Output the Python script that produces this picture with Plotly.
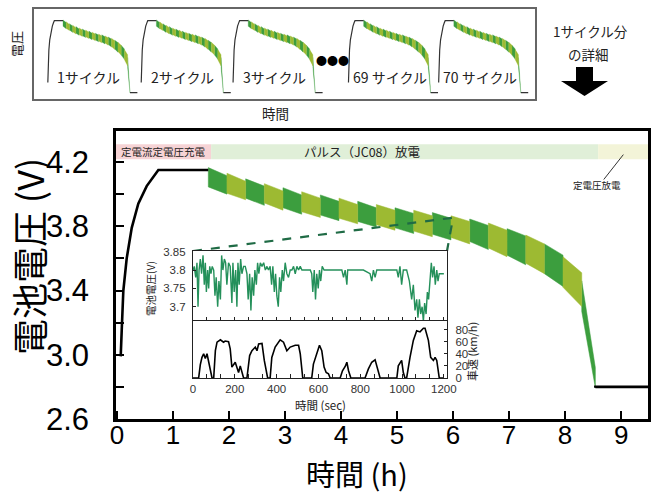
import plotly.graph_objects as go

W, H = 651, 495

# ---------------- data ----------------
# CC-CV charge (hours, volts)
charge_t = [0.066, 0.07, 0.084, 0.113, 0.173, 0.263, 0.380, 0.530, 0.648, 0.738, 1.63]
charge_v = [2.99, 3.05, 3.15, 3.40, 3.60, 3.79, 3.94, 4.05, 4.11, 4.15, 4.15]

# pulse (JC08) discharge: one block per 1200 s cycle
seg_start = [1.63, 1.963, 2.297, 2.63, 2.963, 3.297, 3.63, 3.963, 4.297, 4.63, 4.963,
             5.297, 5.63, 5.963, 6.297, 6.63, 6.963, 7.297, 7.63, 7.963, 8.297]
discharge_end_t = 8.54
seg_top_start = [4.165, 4.130, 4.095, 4.065, 4.040, 4.015, 3.995, 3.975, 3.955, 3.935, 3.915,
                 3.900, 3.885, 3.865, 3.845, 3.820, 3.785, 3.745, 3.690, 3.610, 3.460]
seg_top_end = [4.115, 4.080, 4.050, 4.020, 3.995, 3.975, 3.955, 3.935, 3.915, 3.900, 3.880,
               3.865, 3.850, 3.830, 3.805, 3.775, 3.740, 3.690, 3.620, 3.510, 2.920]
seg_bot_start = [4.045, 4.005, 3.975, 3.945, 3.915, 3.890, 3.870, 3.850, 3.830, 3.810, 3.790,
                 3.770, 3.750, 3.730, 3.705, 3.665, 3.620, 3.570, 3.505, 3.420, 3.270]
seg_bot_end = [4.000, 3.965, 3.930, 3.900, 3.875, 3.855, 3.835, 3.815, 3.795, 3.775, 3.755,
               3.735, 3.715, 3.690, 3.655, 3.610, 3.560, 3.505, 3.425, 3.300, 2.795]

# constant-voltage discharge / rest after cutoff
rest_t = [8.54, 9.48]
rest_v = [2.80, 2.80]

# phase bands at the top
phase_names = ["定電流定電圧充電", "パルス（JC08）放電", "定電圧放電"]
phase_start = [-0.018, 1.68, 8.59]
phase_end = [1.68, 8.59, 9.48]

# zoomed cycle (main-chart location of the inset)
zoom_t = 6.0
zoom_v = 3.853

# inset: battery voltage over one JC08 cycle (s, V)
inset_t = [0, 6, 13, 19, 24, 29, 35, 41, 48, 54, 59, 64, 70, 75, 80, 86, 92, 99, 105, 111,
           118, 124, 131, 137, 143, 150, 156, 162, 170, 178, 186, 191, 197, 204, 210, 215,
           221, 228, 234, 242, 250, 258, 264, 271, 277, 283, 290, 296, 303, 309, 315, 322,
           330, 338, 346, 354, 361, 369, 376, 382, 389, 395, 401, 408, 414, 420, 427, 433,
           441, 449, 457, 465, 473, 481, 489, 497, 505, 513, 521, 529, 545, 561, 568, 573,
           580, 586, 592, 599, 605, 611, 618, 627, 640, 656, 672, 696, 712, 720, 728, 736,
           740, 752, 783, 815, 847, 855, 863, 871, 879, 895, 927, 959, 975, 982, 990, 998,
           1006, 1022, 1035, 1046, 1054, 1062, 1070, 1076, 1083, 1089, 1096, 1102, 1108,
           1115, 1121, 1127, 1134, 1140, 1146, 1153, 1159, 1166, 1172, 1178, 1190, 1200]
inset_v = [3.80, 3.81, 3.78, 3.82, 3.70, 3.80, 3.83, 3.79, 3.84, 3.76, 3.82, 3.74, 3.80,
           3.75, 3.81, 3.79, 3.81, 3.80, 3.73, 3.78, 3.70, 3.77, 3.72, 3.84, 3.80, 3.83,
           3.82, 3.76, 3.82, 3.81, 3.71, 3.82, 3.74, 3.80, 3.70, 3.82, 3.76, 3.83, 3.79,
           3.81, 3.81, 3.79, 3.72, 3.79, 3.69, 3.78, 3.73, 3.80, 3.76, 3.82, 3.79, 3.82,
           3.81, 3.82, 3.80, 3.81, 3.80, 3.81, 3.76, 3.81, 3.74, 3.79, 3.73, 3.70, 3.78,
           3.74, 3.80, 3.77, 3.82, 3.79, 3.78, 3.80, 3.80, 3.81, 3.79, 3.81, 3.80, 3.81,
           3.80, 3.80, 3.80, 3.80, 3.79, 3.74, 3.80, 3.72, 3.79, 3.75, 3.80, 3.77, 3.81,
           3.80, 3.80, 3.80, 3.80, 3.80, 3.80, 3.78, 3.80, 3.76, 3.80, 3.80, 3.80, 3.80,
           3.79, 3.77, 3.80, 3.78, 3.80, 3.80, 3.80, 3.80, 3.80, 3.78, 3.81, 3.76, 3.80,
           3.80, 3.77, 3.72, 3.76, 3.69, 3.72, 3.67, 3.72, 3.68, 3.70, 3.66, 3.71, 3.68,
           3.74, 3.72, 3.79, 3.82, 3.78, 3.81, 3.76, 3.80, 3.77, 3.79, 3.79, 3.79]

# inset: vehicle speed over one JC08 cycle (s, km/h)
speed_t = [0, 27, 35, 43, 51, 59, 67, 75, 83, 91, 99, 107, 115, 131, 146, 154, 170, 178,
           186, 202, 218, 226, 242, 250, 258, 271, 282, 298, 306, 314, 330, 341, 357, 369,
           377, 393, 417, 433, 449, 465, 489, 505, 513, 525, 568, 576, 592, 605, 616, 627,
           637, 648, 656, 704, 715, 728, 736, 744, 755, 823, 839, 855, 871, 887, 895, 975,
           982, 998, 1006, 1014, 1022, 1038, 1054, 1070, 1086, 1102, 1110, 1126, 1137,
           1150, 1158, 1166, 1178, 1200]
speed_v = [0, 0, 22, 34, 40, 32, 40, 26, 9, 0, 0, 45, 59, 63, 59, 61, 60, 48,
           18, 26, 9, 20, 0, 0, 0, 37, 45, 51, 45, 56, 57, 29, 0, 0,
           34, 51, 63, 59, 45, 51, 54, 54, 40, 0, 0, 23, 40, 54, 45, 18,
           9, 7, 0, 0, 12, 19, 26, 12, 0, 0, 15, 26, 30, 9, 0, 0,
           20, 29, 9, 0, 0, 34, 62, 78, 76, 82, 82, 62, 34,
           29, 34, 29, 0, 0]

# top schematic: repeated cycles
cycle_offset = [0.0, 9.63, 19.1, 31.0, 40.3]
cycle_label = ["1サイクル", "2サイクル", "3サイクル", "69 サイクル", "70 サイクル"]
mini_rest_t = [8.54, 9.3]

# ---------------- styling / geometry ----------------
DARK = "#3c9e3e"
LIGHT = "#9dba32"
LAT = "Liberation Sans, Arial, Noto Sans CJK JP"
JP = "Noto Sans CJK JP, Liberation Sans"

def px(x):
    return x / W

def py(y):
    return 1 - y / H

main_xd = [px(116), px(648)]
main_yd = [py(419), py(131)]
main_xr = [-0.018, 9.48]
main_yr = [2.6, 4.393]

ins_xd = [px(193), px(447)]
ins_up = [py(321), py(251)]
ins_lo = [py(378), py(321)]

mini_xd = [px(34), px(535)]
mini_yd = [py(99.3), py(9.3)]

seg_end = seg_start[1:] + [discharge_end_t]

def band(parity, offset=0.0):
    xs, ys = [], []
    for i in range(len(seg_start)):
        if i % 2 != parity:
            continue
        s, e = seg_start[i] + offset, seg_end[i] + offset
        xs += [s, e, e, s, s, None]
        ys += [seg_top_start[i], seg_top_end[i], seg_bot_end[i], seg_bot_start[i],
               seg_top_start[i], None]
    return xs, ys

fig = go.Figure()

# main chart
for parity, col in [(0, DARK), (1, LIGHT)]:
    bx, by = band(parity)
    fig.add_trace(go.Scatter(x=bx, y=by, fill="toself", fillcolor=col, mode="lines",
                             line=dict(color=col, width=0.5), xaxis="x", yaxis="y",
                             hoverinfo="skip"))
fig.add_trace(go.Scatter(x=charge_t, y=charge_v, mode="lines",
                         line=dict(color="black", width=2.6), xaxis="x", yaxis="y"))
fig.add_trace(go.Scatter(x=[discharge_end_t] + rest_t, y=[seg_bot_end[-1]] + rest_v,
                         mode="lines", line=dict(color="black", width=2.6),
                         xaxis="x", yaxis="y"))

# dashed zoom lines (inset corners converted to main data coordinates)
def to_main_x(p):
    return main_xr[0] + (p - main_xd[0]) / (main_xd[1] - main_xd[0]) * (main_xr[1] - main_xr[0])

def to_main_y(p):
    return main_yr[0] + (p - main_yd[0]) / (main_yd[1] - main_yd[0]) * (main_yr[1] - main_yr[0])

fig.add_trace(go.Scatter(x=[to_main_x(ins_xd[0]), zoom_t, to_main_x(ins_xd[1])],
                         y=[to_main_y(ins_up[1]), zoom_v, to_main_y(ins_up[1])],
                         mode="lines", line=dict(color="#1f6b45", width=2.2, dash="dash"),
                         xaxis="x", yaxis="y"))

# inset
fig.add_trace(go.Scatter(x=inset_t, y=inset_v, mode="lines",
                         line=dict(color="#24905a", width=1.4), xaxis="x2", yaxis="y2"))
fig.add_trace(go.Scatter(x=speed_t, y=speed_v, mode="lines",
                         line=dict(color="black", width=1.6), xaxis="x4", yaxis="y4"))

# top schematic
for parity, col in [(0, DARK), (1, LIGHT)]:
    xs, ys = [], []
    for off in cycle_offset:
        bx, by = band(parity, off)
        xs += bx
        ys += by
    fig.add_trace(go.Scatter(x=xs, y=ys, fill="toself", fillcolor=col, mode="lines",
                             line=dict(color=col, width=0.3), xaxis="x3", yaxis="y3"))
lx, ly = [], []
for off in cycle_offset:
    lx += [t + off for t in charge_t] + [None]
    ly += charge_v + [None]
    lx += [t + off for t in mini_rest_t] + [None]
    ly += rest_v + [None]
fig.add_trace(go.Scatter(x=lx, y=ly, mode="lines", line=dict(color="#333", width=1.2),
                         xaxis="x3", yaxis="y3"))

# ---------------- axes ----------------
yt = [2.6, 2.8, 3.0, 3.2, 3.4, 3.6, 3.8, 4.0, 4.2]
ytt = ["2.6", "", "3.0", "", "3.4", "", "3.8", "", "4.2"]
ins_ticks = [i * 200 / 3 for i in range(19)]
ins_tt = [str(int(round(v))) if i % 3 == 0 else "" for i, v in enumerate(ins_ticks)]

common = dict(showgrid=False, zeroline=False, automargin=False)

fig.update_layout(
    template="none",
    width=W, height=H, margin=dict(l=0, r=0, t=0, b=0, pad=0, autoexpand=False),
    paper_bgcolor="white", plot_bgcolor="white", showlegend=False,
    xaxis=dict(domain=main_xd, range=main_xr, anchor="y", tickvals=list(range(10)),
               ticks="inside", ticklen=8, tickwidth=2, tickcolor="black",
               showline=True, linewidth=2.5, linecolor="black", mirror=True,
               ticklabelstandoff=-9,
               tickfont=dict(family=LAT, size=26, color="black"), **common),
    yaxis=dict(domain=main_yd, range=main_yr, anchor="x", tickvals=yt, ticktext=ytt,
               ticks="inside", ticklen=8, tickwidth=2, tickcolor="black",
               showline=True, linewidth=2.5, linecolor="black", mirror=True,
               ticklabelstandoff=18,
               tickfont=dict(family=LAT, size=31, color="black"), **common),
    xaxis2=dict(domain=ins_xd, range=[0, 1215], anchor="y2", tickvals=ins_ticks,
                showticklabels=False, ticks="inside", ticklen=4, tickcolor="#222",
                showline=True, linewidth=1.3, linecolor="#222", mirror=True, **common),
    yaxis2=dict(domain=ins_up, range=[3.661, 3.852], anchor="x2",
                tickvals=[3.7, 3.75, 3.8, 3.85], ticktext=["3.7", "3.75", "3.8", "3.85"],
                ticks="inside", ticklen=3, tickcolor="#222", showline=True, linewidth=1.3,
                linecolor="#222", mirror=True, ticklabelstandoff=4,
                tickfont=dict(family=LAT, size=11.5, color="#333"), **common),
    xaxis4=dict(domain=ins_xd, range=[0, 1215], anchor="y4", tickvals=ins_ticks,
                ticktext=ins_tt, ticks="inside", ticklen=4, tickcolor="#222",
                showline=True, linewidth=1.3, linecolor="#222", mirror=True,
                ticklabelstandoff=0,
                tickfont=dict(family=LAT, size=11.5, color="#333"), **common),
    yaxis4=dict(domain=ins_lo, range=[0, 94], anchor="x4", side="right",
                tickvals=[0, 20, 40, 60, 80], ticks="inside", ticklen=3, tickcolor="#222",
                showline=True, linewidth=1.3, linecolor="#222", mirror=True,
                ticklabelstandoff=5,
                tickfont=dict(family=LAT, size=11.5, color="#333"), **common),
    xaxis3=dict(domain=mini_xd, range=[-1.36, 50.3], anchor="y3", showticklabels=False,
                ticks="", showline=True, linewidth=2, linecolor="#666", mirror=True, **common),
    yaxis3=dict(domain=mini_yd, range=[2.676, 4.364], anchor="x3", showticklabels=False,
                ticks="", showline=True, linewidth=2, linecolor="#666", mirror=True, **common),
)

# phase bands
band_cols = ["#f6d3d5", "#e0efd8", "#f3f4d8"]
for s, e, c in zip(phase_start, phase_end, band_cols):
    fig.add_shape(type="rect", xref="x", yref="y", x0=s, x1=e, y0=4.217, y1=4.31,
                  fillcolor=c, line=dict(width=0), layer="below")


def note(x, y, text, size, xref="paper", yref="paper", angle=0, color="#222", fam=JP):
    return dict(x=x, y=y, xref=xref, yref=yref, text=text, textangle=angle,
                xanchor="center", yanchor="middle", showarrow=False,
                font=dict(family=fam, size=size, color=color))


ann = []
ann.append(note((phase_start[0] + phase_end[0]) / 2, 4.263, phase_names[0], 10.5, "x", "y"))
ann.append(note(4.375, 4.263, phase_names[1], 12.5, "x", "y"))
ann.append(note(8.57, 4.058, phase_names[2], 9.5, "x", "y"))
fig.add_shape(type="line", xref="x", yref="y", x0=8.69, y0=4.091, x1=9.04, y1=4.246,
              line=dict(color="#333", width=1))

# titles
ann.append(note(px(28), py(257), "電池電圧 (V)", 36, angle=-90, color="black"))
ann.append(note(px(357), py(473), "時間 (h)", 29, color="black"))
ann.append(note(px(150), py(289), "電池電圧(V)", 10.5, angle=-90))
ann.append(note(px(320), py(405), "時間 (sec)", 11.5))
ann.append(note(px(472), py(352), "車速 (km/h)", 11, angle=-90))

# top schematic text
for off, lab in zip(cycle_offset, cycle_label):
    ann.append(note(off + 4.3, 3.1, lab, 14, "x3", "y3"))
ann.append(note(px(332), py(60), "●●●", 11, color="black"))
ann.append(note(px(16), py(44), "電圧", 13, angle=-90))
ann.append(note(px(275), py(113), "時間", 13.5))
ann.append(note(px(590), py(31), "1サイクル分", 13.5))
ann.append(note(px(588), py(54), "の詳細", 13.5))
fig.update_layout(annotations=ann)

# down arrow
pts = [(576, 67), (593, 67), (593, 81), (608, 81), (584.5, 96), (561, 81), (576, 81)]
path = "M " + " L ".join(f"{px(a):.5f},{py(b):.5f}" for a, b in pts) + " Z"
fig.add_shape(type="path", xref="paper", yref="paper", path=path, fillcolor="black",
              line=dict(width=0))

fig.write_html("out.html", config={"displayModeBar": False},
               post_script="document.body.style.margin='0px';"
                           "document.documentElement.style.overflow='hidden';")
